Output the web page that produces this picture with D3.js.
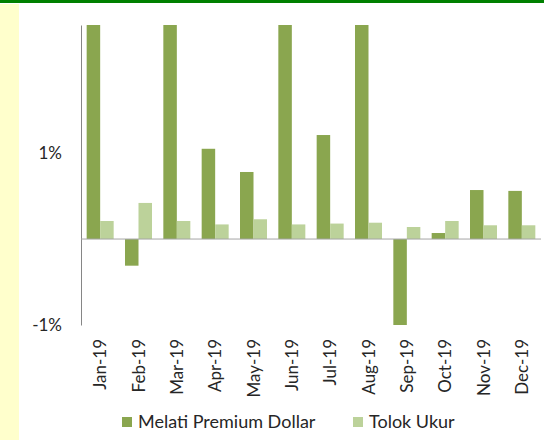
<!DOCTYPE html>
<html>
<head>
<meta charset="utf-8">
<script src="https://cdn.jsdelivr.net/npm/d3@7"></script>
<style>
  body { margin: 0; background: #fff; }
  text { font-family: Lato, "Open Sans", sans-serif; fill: #262626; }
</style>
</head>
<body>
<div id="container"></div>
<script>
/* CONSTANTS AND GLOBALS */
const width = 544,
  height = 440;

const months = ["Jan-19", "Feb-19", "Mar-19", "Apr-19", "May-19", "Jun-19",
  "Jul-19", "Aug-19", "Sep-19", "Oct-19", "Nov-19", "Dec-19"];
// values in %, bars above the axis max get clipped like in the original
const melati = [2.8, -0.31, 2.8, 1.05, 0.78, 2.8, 1.21, 2.8, -1.0, 0.07, 0.57, 0.56];
const tolok = [0.21, 0.42, 0.21, 0.17, 0.23, 0.17, 0.18, 0.19, 0.14, 0.21, 0.16, 0.16];
const seriesNames = ["Melati Premium Dollar", "Tolok Ukur"];
const yTicks = [-1, 1];

const colors = ["#8aa64f", "#bcd29a"];

const svg = d3.select("#container")
  .append("svg")
  .attr("width", width)
  .attr("height", height)

// frame decorations
svg.append("rect").attr("x", 0).attr("y", 0).attr("width", width).attr("height", 3).attr("fill", "#008000")
svg.append("rect").attr("x", 0).attr("y", 4).attr("width", 19).attr("height", height - 4).attr("fill", "#ffffcc")

// SCALES
const xScale = d3.scaleBand()
  .domain(months)
  .range([81, 541])

const inner = d3.scaleBand()
  .domain([0, 1])
  .range([0, xScale.bandwidth()])
  .paddingInner(0)
  .paddingOuter(0.42)

const yScale = d3.scaleLinear()
  .domain([-1, 2.49])
  .range([325, 25])

svg.append("clipPath").attr("id", "plot")
  .append("rect").attr("x", 81).attr("y", 25).attr("width", 460).attr("height", 300)

// BARS
const rows = months.map((m, i) => ({ m, vals: [melati[i], tolok[i]] }))

svg.append("g")
  .attr("clip-path", "url(#plot)")
  .selectAll("g.grp")
  .data(rows)
  .join("g")
  .attr("class", "grp")
  .attr("transform", d => `translate(${xScale(d.m)},0)`)
  .selectAll("rect")
  .data(d => d.vals)
  .join("rect")
  .attr("x", (d, i) => inner(i))
  .attr("width", inner.bandwidth())
  .attr("y", d => yScale(Math.max(0, d)))
  .attr("height", d => Math.abs(yScale(d) - yScale(0)))
  .attr("fill", (d, i) => colors[i])

// AXES
const yAxis = d3.axisLeft(yScale)
  .tickValues(yTicks)
  .tickFormat(d => d + "%")
  .tickSize(0)
  .tickPadding(19)

const yg = svg.append("g")
  .attr("transform", `translate(81,0)`)
  .call(yAxis)
yg.select(".domain").attr("stroke", "#868686")
yg.selectAll("text").attr("font-size", 17).style("font-family", "Lato, sans-serif").style("fill", "#262626")

// zero line
svg.append("line")
  .attr("x1", 81).attr("x2", 541)
  .attr("y1", yScale(0)).attr("y2", yScale(0))
  .attr("stroke", "#a6a6a6")

// month labels
svg.append("g")
  .selectAll("text")
  .data(months)
  .join("text")
  .attr("transform", d => `translate(${xScale(d) + xScale.bandwidth() / 2 + 6},339) rotate(-90)`)
  .attr("text-anchor", "end")
  .attr("font-size", 17)
  .text(d => d)

// LEGEND
const legendX = [122, 353]
const lg = svg.append("g")
  .selectAll("g")
  .data(seriesNames)
  .join("g")
  .attr("transform", (d, i) => `translate(${legendX[i]},417)`)
lg.append("rect").attr("width", 10).attr("height", 10).attr("fill", (d, i) => colors[i])
lg.append("text").attr("x", 16).attr("y", 11).attr("font-size", 18).text(d => d)
</script>
</body>
</html>
